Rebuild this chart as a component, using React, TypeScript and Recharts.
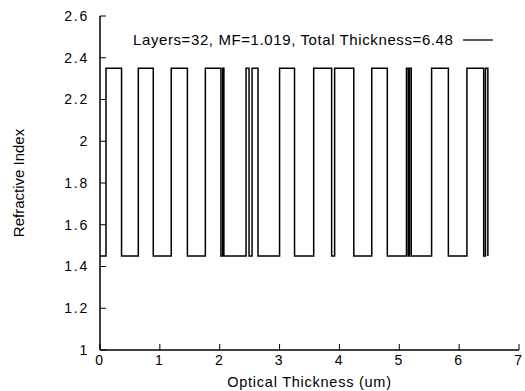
import React from "react";
import {
  LineChart,
  Line,
  XAxis,
  YAxis,
  Legend,
  Label,
} from "recharts";

// layer start positions (optical thickness, um); last entry is the end of the stack
const layerEdges = [
  0, 0.1, 0.36, 0.64, 0.89, 1.19, 1.46, 1.76, 2.02, 2.05, 2.07, 2.44, 2.49,
  2.54, 2.64, 3.0, 3.25, 3.57, 3.87, 3.92, 4.24, 4.54, 4.8, 5.12, 5.15, 5.17,
  5.2, 5.54, 5.82, 6.13, 6.41, 6.44, 6.48,
];

// refractive index of each layer (plus the closing point)
const layerIndex = [
  1.45, 2.35, 1.45, 2.35, 1.45, 2.35, 1.45, 2.35, 1.45, 2.35, 1.45, 2.35, 1.45,
  2.35, 1.45, 2.35, 1.45, 2.35, 1.45, 2.35, 1.45, 2.35, 1.45, 2.35, 1.45, 2.35,
  1.45, 2.35, 1.45, 2.35, 1.45, 2.35, 1.45,
];

const xTicks = [0, 1, 2, 3, 4, 5, 6, 7];
const yTicks = [1, 1.2, 1.4, 1.6, 1.8, 2, 2.2, 2.4, 2.6];

const seriesName = "Layers=32, MF=1.019, Total Thickness=6.48";

const data = layerEdges.map((x, i) => ({ x, n: layerIndex[i] }));

const FONT = "'Liberation Sans', Arial, sans-serif";
const tickStyle = { fontSize: 14, fill: "#000", fontFamily: FONT, letterSpacing: 1.8 };
const axisLine = { stroke: "#000", strokeWidth: 1.5 };

const LegendBox = () => (
  <div
    style={{
      display: "flex",
      alignItems: "center",
      fontFamily: FONT,
      fontSize: 15,
      letterSpacing: 0.6,
      color: "#000",
      whiteSpace: "nowrap",
    }}
  >
    <span>{seriesName}</span>
    <svg width={40} height={10} style={{ marginLeft: 10 }}>
      <line x1={0} y1={5} x2={30} y2={5} stroke="#000" strokeWidth={1.3} />
    </svg>
  </div>
);

export default function App() {
  return (
    <div style={{ position: "absolute", left: 0, top: 0, background: "#fff" }}>
      <LineChart
        width={525}
        height={391}
        data={data}
        margin={{ top: 16, right: 6, left: 0, bottom: 0 }}
      >
        <XAxis
          xAxisId="b"
          dataKey="x"
          type="number"
          domain={[0, 7]}
          ticks={xTicks}
          height={41}
          axisLine={axisLine}
          tickLine={{ stroke: "#000" }}
          tickSize={-6}
          tickMargin={11}
          tick={tickStyle}
          interval={0}
        >
          <Label
            value="Optical Thickness (um)"
            position="insideBottom"
            offset={4}
            style={{ fontSize: 14.5, letterSpacing: 0.75, fill: "#000", fontFamily: FONT }}
          />
        </XAxis>
        <XAxis
          xAxisId="t"
          dataKey="x"
          type="number"
          orientation="top"
          domain={[0, 7]}
          ticks={xTicks}
          height={0}
          axisLine={axisLine}
          tickLine={{ stroke: "#000" }}
          tickSize={-6}
          tick={false}
          interval={0}
        />
        <YAxis
          yAxisId="l"
          type="number"
          domain={[1, 2.6]}
          ticks={yTicks}
          width={100}
          axisLine={axisLine}
          tickLine={{ stroke: "#000" }}
          tickSize={-6}
          tickMargin={17}
          tick={tickStyle}
          interval={0}
        >
          <Label
            value="Refractive Index"
            angle={-90}
            position="insideLeft"
            offset={19}
            style={{ fontSize: 15, fill: "#000", fontFamily: FONT, textAnchor: "middle" }}
          />
        </YAxis>
        <YAxis
          yAxisId="r"
          type="number"
          orientation="right"
          domain={[1, 2.6]}
          ticks={yTicks}
          width={0}
          axisLine={axisLine}
          tickLine={{ stroke: "#000" }}
          tickSize={-6}
          tick={false}
          interval={0}
        />
        <Legend
          layout="vertical"
          align="center"
          verticalAlign="middle"
          content={<LegendBox />}
          wrapperStyle={{ position: "absolute", top: 31, left: 133, width: "auto" }}
        />
        <Line
          xAxisId="b"
          yAxisId="l"
          type="stepAfter"
          dataKey="n"
          name={seriesName}
          stroke="#000"
          strokeWidth={1.5}
          dot={false}
          isAnimationActive={false}
        />
      </LineChart>
    </div>
  );
}
